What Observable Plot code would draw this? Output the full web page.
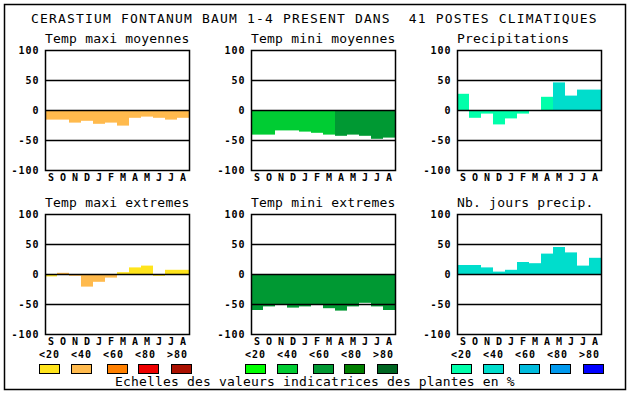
<!DOCTYPE html>
<html><head><meta charset="utf-8">
<script src="https://cdn.jsdelivr.net/npm/d3@7"></script>
<script src="https://cdn.jsdelivr.net/npm/@observablehq/plot@0.6"></script>
<style>
html,body{margin:0;padding:0;background:#fff;}
#root{position:relative;width:630px;height:394px;overflow:hidden;background:#fff;}
#root svg{position:absolute;}
</style></head><body><div id="root"></div>
<script>
const months = ["S","O","N","D","J","F","M","A","M","J","J","A"];
const yTicks = [-100, -50, 0, 50, 100];
const levels = ["<20", "<40", "<60", "<80", ">80"];
const paletteMaxi = ["#FFE41C", "#FFBA4D", "#FF8000", "#EE0000", "#AA1000"];
const paletteMini = ["#00FF00", "#00CC33", "#009933", "#007F00", "#006622"];
const palettePrecip = ["#00FFAA", "#00DDCC", "#00BBDD", "#0099EE", "#0000FF"];

const tmaxMoy    = [-16, -16, -21, -18, -23, -21, -26, -13, -11, -13, -16, -13];
const tmaxMoyCls = ["<40","<40","<40","<40","<40","<40","<40","<40","<40","<40","<40","<40"];
const tminMoy    = [-41, -41, -34, -34, -36, -38, -41, -43, -41, -43, -48, -46];
const tminMoyCls = ["<40","<40","<40","<40","<40","<40","<40","<60","<60","<60","<60","<60"];
const precip     = [27, -13, -6, -24, -14, -6, 0, 22, 46, 24, 34, 34];
const precipCls  = ["<20","<20","<20","<20","<20","<20","<20","<20","<40","<40","<40","<40"];
const tmaxExt    = [-4, 2, -3, -21, -13, -6, 3, 11, 14, -3, 7, 7];
const tmaxExtCls = ["<20","<40","<40","<40","<40","<40","<20","<20","<20","<20","<20","<20"];
const tminExt    = [-60, -54, -51, -56, -54, -51, -57, -61, -54, -48, -54, -60];
const tminExtCls = ["<60","<60","<60","<60","<60","<60","<60","<60","<60","<60","<60","<60"];
const nbJours    = [15, 15, 11, 4, 7, 20, 18, 34, 45, 36, 14, 27];
const nbJoursCls = ["<40","<40","<40","<40","<40","<40","<40","<40","<40","<40","<40","<40"];

const title = "CERASTIUM FONTANUM BAUM 1-4 PRESENT DANS  41 POSTES CLIMATIQUES";
const caption = "Echelles des valeurs indicatrices des plantes en %";

const panels = [
  {name: "Temp maxi moyennes", values: tmaxMoy, cls: tmaxMoyCls, palette: paletteMaxi, col: 0, row: 0},
  {name: "Temp mini moyennes", values: tminMoy, cls: tminMoyCls, palette: paletteMini, col: 1, row: 0},
  {name: "Precipitations", values: precip, cls: precipCls, palette: palettePrecip, col: 2, row: 0},
  {name: "Temp maxi extremes", values: tmaxExt, cls: tmaxExtCls, palette: paletteMaxi, col: 0, row: 1},
  {name: "Temp mini extremes", values: tminExt, cls: tminExtCls, palette: paletteMini, col: 1, row: 1},
  {name: "Nb. jours precip.", values: nbJours, cls: nbJoursCls, palette: palettePrecip, col: 2, row: 1}
];
const legendGroups = [paletteMaxi, paletteMini, palettePrecip];

// layout
const colLeft = [45, 251, 457];
const rowTop = [50, 214];
const plotW = 144, plotH = 120;
const mL = 45, mR = 6, mT = 6, mB = 22;
const font = "DejaVu Sans Mono";

const root = document.getElementById("root");

// overlay for texts and legend
const ov = d3.select(root).append("svg")
  .attr("width", 630).attr("height", 394)
  .style("left", "0px").style("top", "0px")
  .attr("font-family", font);
ov.append("rect").attr("x", 4.5).attr("y", 4.5).attr("width", 621).attr("height", 385)
  .attr("fill", "none").attr("stroke", "#000").attr("stroke-width", 1.5);
ov.append("text").attr("x", 31).attr("y", 23).attr("font-size", 13)
  .attr("letter-spacing", "1.17px").style("white-space", "pre").text(title);
panels.forEach(p => {
  ov.append("text").attr("x", colLeft[p.col]).attr("y", rowTop[p.row] - 7)
    .attr("font-size", 13).attr("letter-spacing", "0.2px").text(p.name);
});
const boxOff = [0, 32, 68, 99, 132];
legendGroups.forEach((pal, g) => {
  const gx = 39 + g * 206;
  pal.forEach((c, k) => {
    ov.append("text").attr("x", gx + k * 32).attr("y", 357.5)
      .attr("font-size", 10).attr("font-weight", "bold").attr("letter-spacing", "1px")
      .text(levels[k]);
    ov.append("rect").attr("x", gx + boxOff[k] + 0.5).attr("y", 364.5)
      .attr("width", 20).attr("height", 9).attr("fill", c)
      .attr("stroke", "#000").attr("stroke-width", 1);
  });
});
ov.append("text").attr("x", 115).attr("y", 386).attr("font-size", 13)
  .attr("letter-spacing", "0.17px").text(caption);

// panels
panels.forEach(p => {
  const rows = p.values.map((v, i) => ({i, v, c: p.cls[i]}));
  const svg = Plot.plot({
    width: mL + plotW + mR, height: mT + plotH + mB,
    marginLeft: mL, marginRight: mR, marginTop: mT, marginBottom: mB,
    x: {type: "band", domain: d3.range(12), padding: 0, label: null},
    y: {domain: [-100, 100], label: null},
    color: {domain: levels, range: p.palette},
    style: {fontFamily: font, fontSize: "10px", fontWeight: "bold", letterSpacing: "1px", background: "transparent", overflow: "visible", color: "#000"},
    marks: [
      Plot.barY(rows, {x: "i", y1: 0, y2: "v", fill: "c", inset: 0}),
      Plot.ruleY([-50, 0, 50], {stroke: "#000", strokeWidth: 1.5}),
      Plot.frame({stroke: "#000", strokeWidth: 1.5}),
      Plot.axisY({ticks: yTicks, tickSize: 0, tickPadding: 6, tickFormat: d => String(d), fill: "#000", label: null}),
      Plot.axisX({tickSize: 0, tickPadding: 3, tickFormat: i => months[i], fill: "#000", label: null})
    ]
  });
  svg.style.left = (colLeft[p.col] - mL) + "px";
  svg.style.top = (rowTop[p.row] - mT) + "px";
  root.appendChild(svg);
});
</script></body></html>
